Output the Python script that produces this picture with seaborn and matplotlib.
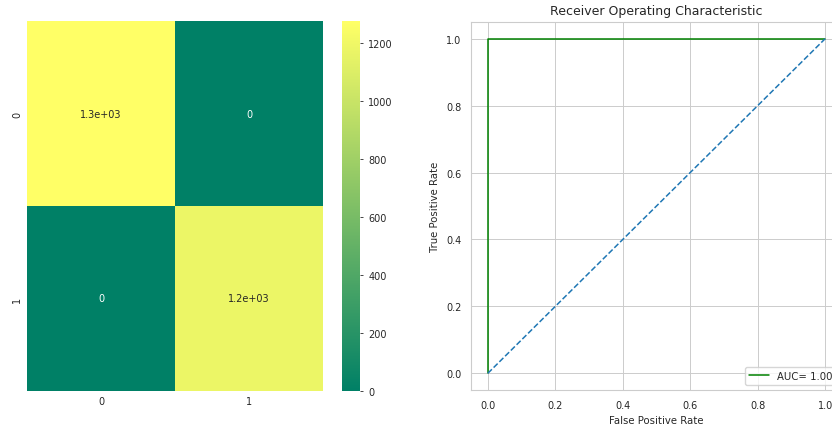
import numpy as np
import pandas as pd
import matplotlib
matplotlib.use('Agg')
import matplotlib.pyplot as plt
import seaborn as sns

# confusion matrix values
classes = ['0', '1']
cm_values = [[1276, 0],
             [0, 1180]]

# roc curve points
fpr = [0.0, 0.0, 1.0]
tpr = [0.0, 1.0, 1.0]
diag_x = [0.0, 1.0]
diag_y = [0.0, 1.0]
auc_score = 1.00

sns.set_style('whitegrid')

W, H = 832, 427
fig = plt.figure(figsize=(W / 100, H / 100), dpi=100)

def box(x0, y0, x1, y1):
    return [x0 / W, 1 - y1 / H, (x1 - x0) / W, (y1 - y0) / H]

ax_hm = fig.add_axes(box(27, 22, 323, 392))
ax_cb = fig.add_axes(box(342, 22, 360, 392))
ax_roc = fig.add_axes(box(471, 23, 842, 391))

cm_df = pd.DataFrame(cm_values, index=classes, columns=classes)
sns.heatmap(cm_df, annot=True, cmap='summer', ax=ax_hm, cbar_ax=ax_cb,
            annot_kws={'size': 7})
ax_hm.tick_params(labelsize=7, colors='.15', length=0)
ax_cb.tick_params(labelsize=7, colors='.15', right=True, length=2.5, width=0.6)

# roc plot
sns.lineplot(x=fpr, y=tpr, color='g', ax=ax_roc, label='AUC= %0.2f' % auc_score,
             estimator=None, sort=False, linewidth=1.1)
ax_roc.plot(diag_x, diag_y, '--', linewidth=1.1)
ax_roc.set_title('Receiver Operating Characteristic', fontsize=9, color='.15')
ax_roc.set_xlabel('False Positive Rate', fontsize=7.3, color='.15')
ax_roc.set_ylabel('True Positive Rate', fontsize=7.3, color='.15')
ax_roc.tick_params(labelsize=7, colors='.15')
ax_roc.legend(loc='lower right', fontsize=7.3)
ax_roc.grid(True, color='.8', linewidth=0.7)
for s in ax_roc.spines.values():
    s.set_color('.8')

fig.savefig('out.png', dpi=100)
